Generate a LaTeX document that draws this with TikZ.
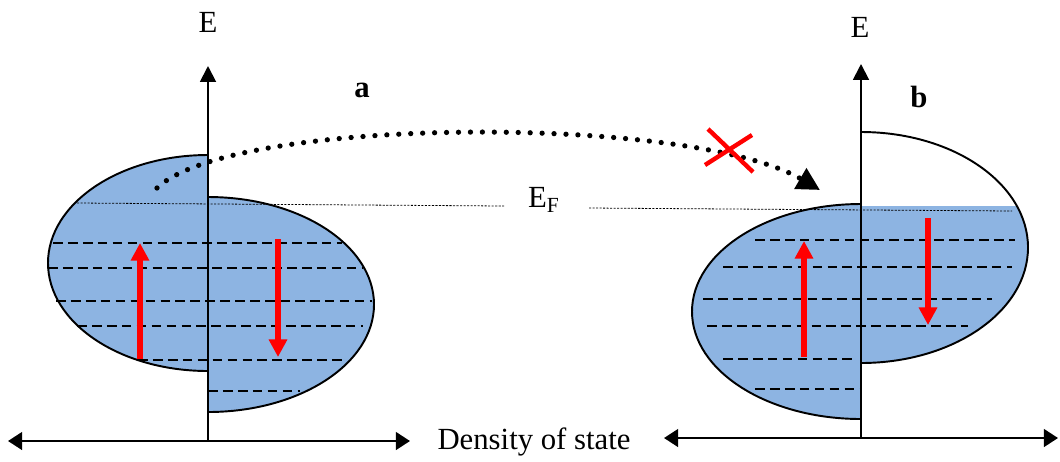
\documentclass[tikz,border=0pt]{standalone}
\usepackage{fontspec}
\setmainfont{Liberation Serif}
\usetikzlibrary{arrows.meta}
\definecolor{dosBlue}{RGB}{141,180,226}
\definecolor{spinRed}{RGB}{255,0,0}

\begin{document}
\begin{tikzpicture}[x=0.02cm, y=0.02cm,
    band/.style={draw=black, line width=1.1pt, fill=dosBlue},
    level/.style={black, line width=1.1pt, dash pattern=on 5.5pt off 3pt},
    fermi/.style={black, line width=0.45pt, dash pattern=on 1.2pt off 0.8pt},
    eaxis/.style={line width=1.1pt, -{Triangle[length=9pt, width=9pt]}},
    dosaxis/.style={line width=1.4pt, {Triangle[length=8pt, width=10pt]}-{Triangle[length=8pt, width=10pt]}},
    spin/.style={spinRed, line width=3.4pt, -{Triangle[length=10pt, width=10pt]}},
    hop/.style={line width=3pt, line cap=round, dash pattern=on 0pt off 6.8pt, -{Triangle[length=13pt, width=13pt]}},
    cross/.style={spinRed, line width=2.5pt},
    lbl/.style={font=\fontsize{17.5}{20}\selectfont, inner sep=0pt},
    panel/.style={font=\fontsize{17.5}{20}\selectfont\bfseries, inner sep=0pt}
]
\useasboundingbox (0,0) rectangle (1060,-461);

% Density of states, panel a
\draw[band] (208,-155) arc[start angle=90, end angle=270, x radius=160, y radius=108] -- cycle;
\draw[band] (208,-197) arc[start angle=90, end angle=-90, x radius=166, y radius=107.5] -- cycle;

% Density of states, panel b (spin down only partly filled)
\draw[band] (861,-204) arc[start angle=90, end angle=270, x radius=169, y radius=107.5] -- cycle;
\begin{scope}
\clip (861,-206) rectangle (1040,-370);
\fill[dosBlue] (861,-132) arc[start angle=90, end angle=-90, x radius=167, y radius=115.5] -- cycle;
\end{scope}
\draw[line width=1.1pt] (861,-132) arc[start angle=90, end angle=-90, x radius=167, y radius=115.5];

% Fermi level
\node[lbl] (ef) at (544,-200) {E\textsubscript{F}};
\draw[fermi] (77,-203) -- (504,-206);
\draw[fermi] (589,-208) -- (1012,-211);

% Energy levels
\foreach \y/\xa/\xb in {243/53/342, 268/48/363, 301/56/372, 326/77/363, 360/138/345, 391/208/300}
    \draw[level] (\xa,-\y) -- (\xb,-\y);
\foreach \y/\xa/\xb in {240/755/1015, 267/723/1012, 299/703/992, 326/707/968, 359/723/857, 389/755/862}
    \draw[level] (\xa,-\y) -- (\xb,-\y);

% Axes
\coordinate (aOrigin) at (208,-441);
\coordinate (aTop) at (208,-66);
\coordinate (aLeft) at (8,-441);
\coordinate (aRight) at (410,-441);
\coordinate (bOrigin) at (861,-438);
\coordinate (bTop) at (861,-64);
\coordinate (bLeft) at (664,-438);
\coordinate (bRight) at (1058,-438);
\draw[eaxis] (aOrigin) -- (aTop);
\draw[eaxis] (bOrigin) -- (bTop);
\draw[dosaxis] (aLeft) -- (aRight);
\draw[dosaxis] (bLeft) -- (bRight);

% Spin arrows
\coordinate (aUpFrom) at (140,-359);
\coordinate (aUpTo) at (140,-243);
\coordinate (aDownFrom) at (278,-239);
\coordinate (aDownTo) at (278,-357);
\coordinate (bUpFrom) at (804,-357);
\coordinate (bUpTo) at (804,-241);
\coordinate (bDownFrom) at (928,-218);
\coordinate (bDownTo) at (928,-325);
\draw[spin] (aUpFrom) -- (aUpTo);
\draw[spin] (aDownFrom) -- (aDownTo);
\draw[spin] (bUpFrom) -- (bUpTo);
\draw[spin] (bDownFrom) -- (bDownTo);

% Forbidden transfer
\coordinate (hopStart) at (157,-188);
\coordinate (hopEnd) at (820,-190);
\draw[hop] (hopStart) .. controls (232,-116) and (690,-114) .. (hopEnd);
\draw[cross] (708,-129) -- (753,-172);
\draw[cross] (705,-165) -- (752,-135);

% Labels
\node[lbl] (eA) at (208,-22) {E};
\node[lbl] (eB) at (860,-27) {E};
\node[panel] (labA) at (362,-90) {a};
\node[panel] (labB) at (919,-97) {b};
\node[lbl] (dos) at (534,-442) {Density of state};

\end{tikzpicture}
\end{document}
